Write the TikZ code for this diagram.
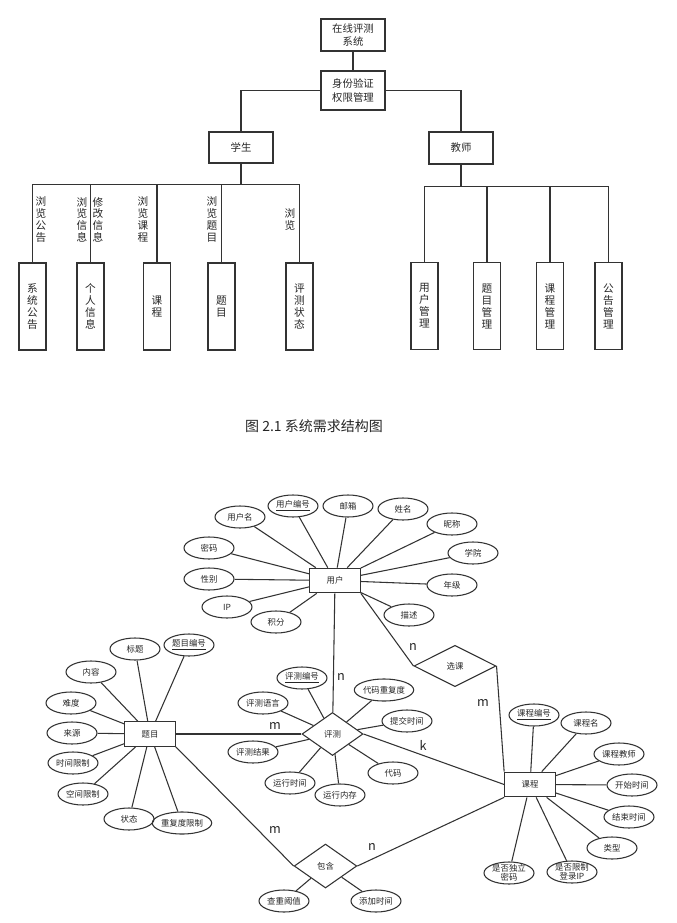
\documentclass[tikz,border=0pt]{standalone}
\usepackage{fontspec}
\setmainfont{Noto Sans CJK SC}
\usetikzlibrary{shapes.geometric}

\begin{document}
\begin{tikzpicture}[x=0.75pt,y=-0.75pt,
  every node/.style={text=black!85},
  box/.style={draw=black!80, line width=1.1pt, minimum width=48pt, inner sep=0pt, align=center, font=\fontsize{7.8}{10}\selectfont},
  leaf/.style={draw=black!80, line width=1.1pt, minimum width=20.25pt, minimum height=65.25pt, inner sep=0pt, align=center, font=\fontsize{8}{9}\selectfont},
  tip/.style={align=center, inner sep=0pt, font=\fontsize{8}{8.8}\selectfont},
  link/.style={draw=black!80, line width=1.1pt},
  ent/.style={draw=black!80, line width=0.8pt, minimum width=38pt, minimum height=18.5pt, inner sep=0pt, font=\fontsize{6.3}{7.5}\selectfont},
  attr/.style={ellipse, draw=black!80, line width=0.8pt, minimum width=37.5pt, minimum height=16.5pt, inner sep=0pt, align=center, font=\fontsize{6.3}{7.2}\selectfont},
  wide/.style={attr, minimum width=42pt},
  twoline/.style={attr, inner ysep=-2.2pt, font=\fontsize{6.3}{6.9}\selectfont},
  rel/.style={diamond, draw=black!80, line width=0.8pt, inner sep=0pt, font=\fontsize{6.3}{7.5}\selectfont},
  card/.style={inner sep=0pt, font=\fontsize{9.5}{10}\selectfont},
  er/.style={draw=black!80, line width=0.8pt}]
  \useasboundingbox (0,0) rectangle (677,923);

  % structure chart
  \node[box, minimum height=24pt] (sys) at (353,35) {在线评测\\系统};
  \node[box, minimum height=29.25pt] (auth) at (353,90.5) {身份验证\\权限管理};
  \node[box, minimum height=23.25pt] (stu) at (241,147.5) {学生};
  \node[box, minimum height=24pt] (tea) at (461,148) {教师};

  \node[leaf] (xtgg) at (32.5,306.5) {系\\统\\公\\告};
  \node[leaf] (grxx) at (90.5,306.5) {个\\人\\信\\息};
  \node[leaf] (kc1) at (157,306.5) {课\\程};
  \node[leaf] (tm1) at (221.5,306.5) {题\\目};
  \node[leaf] (pczt) at (299.5,306.5) {评\\测\\状\\态};

  \node[leaf] (yhgl) at (424.5,306) {用\\户\\管\\理};
  \node[leaf] (tmgl) at (487,306) {题\\目\\管\\理};
  \node[leaf] (kcgl) at (550,306) {课\\程\\管\\理};
  \node[leaf] (gggl) at (608.5,306) {公\\告\\管\\理};

  \draw[link] (sys) -- (auth);
  \draw[link] (auth.west) -| (stu.north);
  \draw[link] (auth.east) -| (tea.north);
  \foreach \n in {xtgg,grxx,kc1,tm1,pczt}
    \draw[link] (stu.south) -- ++(0,21) -| (\n.north);
  \foreach \n in {yhgl,tmgl,kcgl,gggl}
    \draw[link] (tea.south) -- ++(0,22) -| (\n.north);

  \node[tip] (t1) at (41,219.5) {浏\\览\\公\\告};
  \node[tip] (t2) at (82,219.5) {浏\\览\\信\\息};
  \node[tip] (t3) at (98,219.5) {修\\改\\信\\息};
  \node[tip] (t4) at (143,219.5) {浏\\览\\课\\程};
  \node[tip] (t5) at (212,219.5) {浏\\览\\题\\目};
  \node[tip] (t6) at (290,219.5) {浏\\览};

  \node[font=\fontsize{10.5}{12}\selectfont] (cap) at (314,426) {图 2.1 系统需求结构图};

  % E-R diagram
  \node[ent] (yh) at (335,580.5) {用户};
  \node[ent] (tm) at (150,734) {题目};
  \node[ent] (kc) at (530,784.5) {课程};
  \node[rel, minimum width=45.75pt, minimum height=32.25pt] (pc) at (332.5,734) {评测};
  \node[rel, minimum width=47pt, minimum height=33pt] (bh) at (325.5,866) {包含};
  \node[rel, minimum width=61.5pt, minimum height=31pt] (xk) at (455,666) {选课};

  \node[attr] (yhm) at (240,517) {用户名};
  \node[attr] (yhbh) at (293,506) {\underline{用户编号}};
  \node[attr] (yx) at (348,506) {邮箱};
  \node[attr] (xm) at (403,509) {姓名};
  \node[attr] (nc) at (452,524) {昵称};
  \node[attr] (xy) at (473,553) {学院};
  \node[attr] (nj) at (452,585) {年级};
  \node[attr] (ms) at (409,615) {描述};
  \node[attr] (jf) at (276,622) {积分};
  \node[attr] (ip) at (227,607) {IP};
  \node[attr] (xb) at (209,579) {性别};
  \node[attr] (mm) at (209,548) {密码};
  \foreach \a in {yhm,yhbh,yx,xm,nc,xy,nj,ms,jf,ip,xb,mm}
    \draw[er] (yh) -- (\a);

  \node[attr] (bt) at (135,649) {标题};
  \node[attr] (tmbh) at (189,645) {\underline{题目编号}};
  \node[attr] (nr) at (91,672) {内容};
  \node[attr] (nd) at (71,703) {难度};
  \node[attr] (ly) at (72,733) {来源};
  \node[attr] (sjxz) at (73,763) {时间限制};
  \node[attr] (kjxz) at (83,794) {空间限制};
  \node[attr] (zt) at (129,819) {状态};
  \node[wide] (cfdxz) at (182,823) {重复度限制};
  \foreach \a in {bt,tmbh,nr,nd,ly,sjxz,kjxz,zt,cfdxz}
    \draw[er] (tm) -- (\a);

  \node[attr] (pcbh) at (302,678) {\underline{评测编号}};
  \node[attr] (pcyy) at (263,703) {评测语言};
  \node[attr] (pcjg) at (253,752) {评测结果};
  \node[attr] (yxsj) at (290,783) {运行时间};
  \node[attr] (yxnc) at (340,795) {运行内存};
  \node[attr] (dm) at (393,773) {代码};
  \node[attr] (tjsj) at (407,721) {提交时间};
  \node[wide] (dmcfd) at (384,690) {代码重复度};
  \foreach \a in {pcbh,pcyy,pcjg,yxsj,yxnc,dm,tjsj,dmcfd}
    \draw[er] (pc) -- (\a);

  \node[attr] (kcbh) at (534,715) {\underline{课程编号}};
  \node[attr] (kcm) at (586,723) {课程名};
  \node[attr] (kcjs) at (619,754) {课程教师};
  \node[attr] (kssj) at (632,785) {开始时间};
  \node[attr] (jssj) at (629,817) {结束时间};
  \node[attr] (lx) at (612,848) {类型};
  \node[twoline] (sfxz) at (572,872) {是否限制\\登录IP};
  \node[twoline] (sfdl) at (509,873) {是否独立\\密码};
  \foreach \a in {kcbh,kcm,kcjs,kssj,jssj,lx,sfxz,sfdl}
    \draw[er] (kc) -- (\a);

  \node[attr] (czyz) at (284,901) {查重阈值};
  \node[attr] (tjsj2) at (376,901) {添加时间};
  \foreach \a in {czyz,tjsj2}
    \draw[er] (bh) -- (\a);

  \draw[er] (yh) -- (pc);
  \draw[er] (yh.south east) -- (xk.west);
  \draw[er] (xk.east) -- (kc.north west);
  \draw[er] (tm) -- (pc);
  \draw[er] (pc.east) -- (kc.west);
  \draw[er] (tm.south east) -- (bh.west);
  \draw[er] (bh.east) -- (kc.south west);

  \node[card] (c1) at (341,677) {n};
  \node[card] (c2) at (413,647) {n};
  \node[card] (c3) at (483,703) {m};
  \node[card] (c4) at (275,726) {m};
  \node[card] (c5) at (423,745) {k};
  \node[card] (c6) at (275,830) {m};
  \node[card] (c7) at (372,847) {n};
\end{tikzpicture}
\end{document}
